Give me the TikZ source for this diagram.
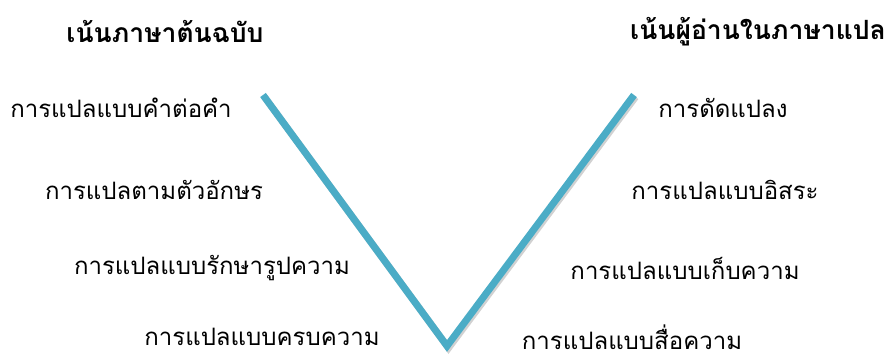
\documentclass[tikz,border=0pt]{standalone}
\usepackage{fontspec}
\newfontfamily\thaifont[Script=Thai]{Loma}
\usetikzlibrary{positioning}
\definecolor{vaqua}{HTML}{4BACC6}
\tikzstyle{heading} = [font=\thaifont\bfseries\fontsize{26.5}{30}\selectfont, inner sep=0pt]
\tikzstyle{item} = [font=\thaifont\fontsize{24}{28}\selectfont, inner sep=0pt]
\tikzstyle{vline} = [line width=7pt, draw=vaqua, line join=miter]

\begin{document}
\begin{tikzpicture}[x=1pt,y=1pt,node distance=78pt]
\useasboundingbox (0,0) rectangle (888,358);

% Headings
\node (srchead) [heading] at (165,326) {เน้นภาษาต้นฉบับ};
\node (tgthead) [heading] at (758,326) {เน้นผู้อ่านในภาษาแปล};

% Source-language side
\node (wordfor) [item] at (121,250) {การแปลแบบคำต่อคำ};
\node (literal) [item, below of=wordfor, xshift=33pt, yshift=-4pt] {การแปลตามตัวอักษร};
\node (faithful) [item, below of=literal, xshift=58pt] {การแปลแบบรักษารูปความ};
\node (semantic) [item, below of=faithful, xshift=50pt, yshift=9pt] {การแปลแบบครบความ};

% Target-language side
\node (adapt) [item] at (723,250) {การดัดแปลง};
\node (free) [item, below of=adapt, xshift=2pt, yshift=-4pt] {การแปลแบบอิสระ};
\node (idiom) [item, below of=free, xshift=-40pt] {การแปลแบบเก็บความ};
\node (commun) [item, below of=idiom, xshift=-53pt, yshift=9pt] {การแปลแบบสื่อความ};

% The V
\coordinate (vtopL) at (263,263);
\coordinate (vbot) at (447,12);
\coordinate (vtopR) at (634,263);
\draw [vline, draw=black, opacity=0.18, transform canvas={shift={(1.5pt,-2pt)}}] (vtopL) -- (vbot) -- (vtopR);
\draw [vline] (vtopL) -- (vbot) -- (vtopR);

\end{tikzpicture}
\end{document}
